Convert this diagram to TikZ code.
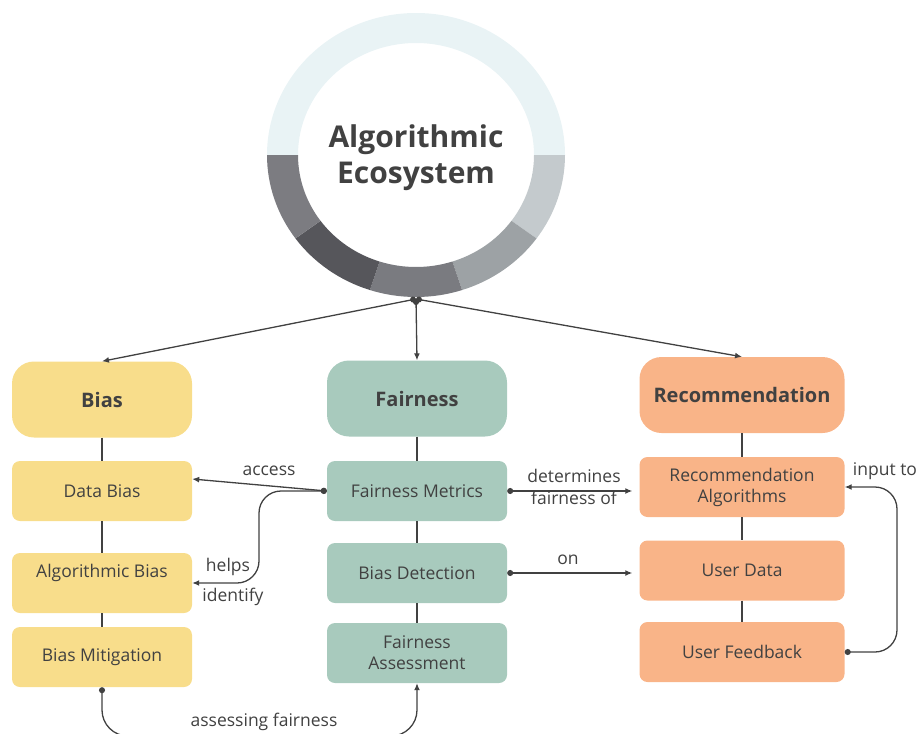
\documentclass[tikz,border=0pt]{standalone}
\usepackage{fontspec}
\setmainfont{Open Sans}
\usetikzlibrary{arrows.meta}
\definecolor{Ink}{HTML}{414141}
\definecolor{RingTop}{HTML}{E9F3F5}
\definecolor{RingA}{HTML}{7C7C81}
\definecolor{RingB}{HTML}{56565B}
\definecolor{RingC}{HTML}{7A7B80}
\definecolor{RingD}{HTML}{9DA2A5}
\definecolor{RingE}{HTML}{C4CACD}
\definecolor{FillBias}{HTML}{F8DD8B}
\definecolor{FillFair}{HTML}{A8CABD}
\definecolor{FillRec}{HTML}{F9B488}

\begin{document}
\begin{tikzpicture}[x=1pt, y=-1pt,
            head/.style={rounded corners=22pt, minimum width=180pt, minimum height=76pt, align=center, text=Ink, font=\fontsize{20}{24}\selectfont\bfseries},
            item/.style={rounded corners=8pt, minimum width=180pt, minimum height=60pt, align=center, text=Ink, font=\fontsize{17.5}{21}\selectfont},
            lbl/.style={text=Ink, align=center, font=\fontsize{17.5}{22}\selectfont},
            link/.style={draw=Ink, line width=1.3pt},
            arr/.style={draw=Ink, line width=1.3pt, {Circle[length=6pt]}-{Latex[length=7pt, width=6pt]}}
        ]
            \useasboundingbox (0,0) rectangle (920,733);
            % ring
            \begin{scope}[shift={(416,155)}]
                \fill[RingTop] (180:149 and 142) arc[start angle=180, end angle=360, x radius=149, y radius=142] -- (360:118 and 112) arc[start angle=360, end angle=180, x radius=118, y radius=112] -- cycle;
                \fill[RingE] (0:149 and 142) arc[start angle=0, end angle=36, x radius=149, y radius=142] -- (36:118 and 112) arc[start angle=36, end angle=0, x radius=118, y radius=112] -- cycle;
                \fill[RingD] (36:149 and 142) arc[start angle=36, end angle=72, x radius=149, y radius=142] -- (72:118 and 112) arc[start angle=72, end angle=36, x radius=118, y radius=112] -- cycle;
                \fill[RingC] (72:149 and 142) arc[start angle=72, end angle=108, x radius=149, y radius=142] -- (108:118 and 112) arc[start angle=108, end angle=72, x radius=118, y radius=112] -- cycle;
                \fill[RingB] (108:149 and 142) arc[start angle=108, end angle=144, x radius=149, y radius=142] -- (144:118 and 112) arc[start angle=144, end angle=108, x radius=118, y radius=112] -- cycle;
                \fill[RingA] (144:149 and 142) arc[start angle=144, end angle=180, x radius=149, y radius=142] -- (180:118 and 112) arc[start angle=180, end angle=144, x radius=118, y radius=112] -- cycle;
            \end{scope}
            \node[text=Ink, align=center, font=\fontsize{30}{36}\selectfont\bfseries] (eco) at (416,158) {Algorithmic\\Ecosystem};

            % headers
            \node[head, fill=FillBias] (bias) at (102,399.5) {Bias};
            \node[head, fill=FillFair] (fair) at (417,398.5) {Fairness};
            \node[head, fill=FillRec, minimum width=205pt] (rec) at (742,395) {Recommendation};

            % bias column
            \node[item, fill=FillBias] (databias) at (102,491) {Data Bias};
            \node[item, fill=FillBias] (algbias)  at (102,583) {Algorithmic Bias\\[4pt]~};
            \node[item, fill=FillBias] (biasmit)  at (102,657) {Bias Mitigation};

            % fairness column
            \node[item, fill=FillFair] (fmetrics) at (417,491) {Fairness Metrics};
            \node[item, fill=FillFair] (biasdet)  at (417,573) {Bias Detection};
            \node[item, fill=FillFair] (fassess)  at (417,653) {Fairness\\Assessment};

            % recommendation column
            \node[item, fill=FillRec, minimum width=205pt] (recalg)   at (742,487) {Recommendation\\Algorithms};
            \node[item, fill=FillRec, minimum width=205pt] (userdata) at (742,570.5) {User Data};
            \node[item, fill=FillRec, minimum width=205pt] (userfb)   at (742,652) {User Feedback};

            \draw[link] (bias) -- (databias);
            \draw[link] (databias) -- (algbias);
            \draw[link] (algbias) -- (biasmit);
            \draw[link] (fair) -- (fmetrics);
            \draw[link] (fmetrics) -- (biasdet);
            \draw[link] (biasdet) -- (fassess);
            \draw[link] (rec) -- (recalg);
            \draw[link] (recalg) -- (userdata);
            \draw[link] (userdata) -- (userfb);

            % hub arrows
            \coordinate (hub) at (416,299);
            \draw[arr] (hub) -- (bias.north);
            \draw[arr] (hub) -- (fair.north);
            \draw[arr] (hub) -- (rec.north);

            % cross links
            \draw[arr] (fmetrics.west) -- ([yshift=12pt]databias.east);
            \draw[arr, rounded corners=22pt] (fmetrics.west) -- (259,491) -- (259,583) -- (algbias.east);
            \draw[arr, rounded corners=26pt] (biasmit.south) -- (102,736) -- (417,736) -- (fassess.south);
            \draw[arr, shorten >=7pt] (fmetrics.east) -- (recalg.west |- fmetrics.east);
            \draw[arr, shorten >=7pt] (biasdet.east) -- (userdata.west |- biasdet.east);
            \draw[arr, rounded corners=22pt] (userfb.east) -- (897,652) -- (897,487) -- (recalg.east);

            \node[lbl] (accesslbl)   at (269,471) {access};
            \node[lbl] (helpslbl)    at (228,567) {helps};
            \node[lbl] (identifylbl) at (233,597) {identify};
            \node[lbl] (assesslbl)   at (264,722) {assessing fairness};
            \node[lbl] (detlbl)      at (574,487) {determines\\fairness of};
            \node[lbl] (onlbl)       at (568,560) {on};
            \node[lbl] (inputlbl)    at (885,471) {input to};
        \end{tikzpicture}
\end{document}
